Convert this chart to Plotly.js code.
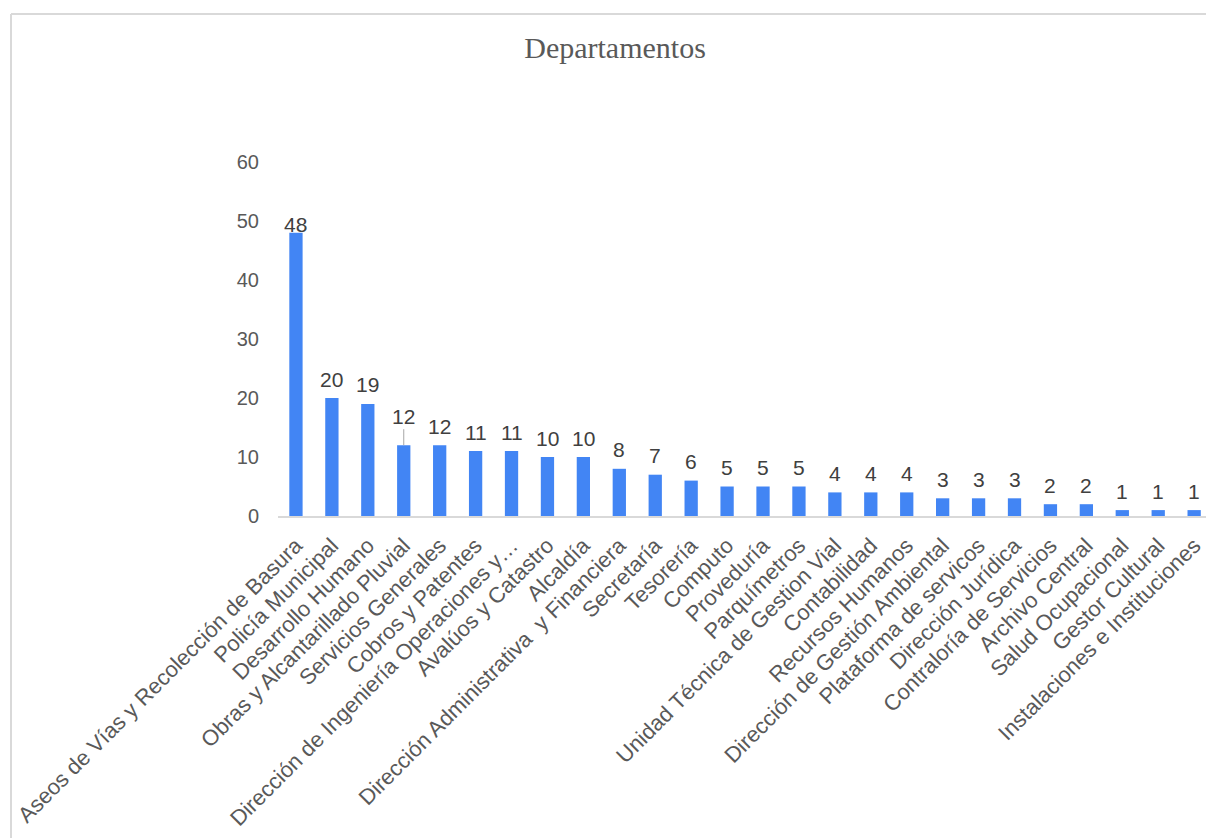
<!DOCTYPE html>
<html>
<head>
<meta charset="utf-8">
<script src="https://cdn.plot.ly/plotly-3.0.1.min.js"></script>
<style>
  html, body { margin: 0; padding: 0; background: #ffffff; width: 1206px; height: 838px; overflow: hidden; }
  #chart { position: absolute; left: 0; top: 0; width: 1206px; height: 838px; }
</style>
</head>
<body>
<div id="chart"></div>
<script>
// Departments and their counts
const departamentos = [
  "Aseos de Vías y Recolección de Basura",
  "Policía Municipal",
  "Desarrollo Humano",
  "Obras y Alcantarillado Pluvial",
  "Servicios Generales",
  "Cobros y Patentes",
  "Dirección de Ingeniería Operaciones y…",
  "Avalúos y Catastro",
  "Alcaldía",
  "Dirección Administrativa  y Financiera",
  "Secretaría",
  "Tesorería",
  "Computo",
  "Proveduría",
  "Parquímetros",
  "Unidad Técnica de Gestion Vial",
  "Contabilidad",
  "Recursos Humanos",
  "Dirección de Gestión Ambiental",
  "Plataforma de servicos",
  "Dirección Jurídica",
  "Contraloría de Servicios",
  "Archivo Central",
  "Salud Ocupacional",
  "Gestor Cultural",
  "Instalaciones e Instituciones"
];
const cantidades = [48, 20, 19, 12, 12, 11, 11, 10, 10, 8, 7, 6, 5, 5, 5, 4, 4, 4, 3, 3, 3, 2, 2, 1, 1, 1];
const yTicks = [0, 10, 20, 30, 40, 50, 60];

const W = 1206, H = 838;
const M = { l: 278, r: 0, t: 162, b: 322 };

const labelFont = { family: "Liberation Sans, Arial, sans-serif", size: 21, color: "#404040" };
const maxVal = Math.max(...cantidades);

// Value labels above each bar; the tallest one sits close to its bar top,
// and the first "12" is lifted with a short leader line.
const annotations = cantidades.map((v, i) => {
  const a = {
    x: departamentos[i], y: v, xref: "x", yref: "y",
    text: String(v), font: labelFont,
    showarrow: false, yanchor: "middle", xanchor: "center",
    yshift: v === maxVal ? 8 : 19
  };
  if (i > 0 && v === cantidades[i + 1] && v !== cantidades[i - 1] && v === 12) {
    a.showarrow = true; a.arrowhead = 0; a.arrowwidth = 1; a.arrowcolor = "#a6a6a6";
    a.ax = 0; a.ay = -29; a.standoff = 0; a.yshift = 0;
  }
  return a;
});

// Chart frame: left and top edges, expressed in paper units from pixel offsets
const pw = W - M.l - M.r, ph = H - M.t - M.b;
const fx = (11 - M.l) / pw, fy = 1 + (M.t - 14) / ph;
const frameLine = { color: "#d9d9d9", width: 2 };
const shapes = [
  { type: "line", xref: "paper", yref: "paper", x0: fx, x1: fx, y0: fy, y1: -M.b / ph - 0.1, line: frameLine, layer: "below" },
  { type: "line", xref: "paper", yref: "paper", x0: fx, x1: 1.1, y0: fy, y1: fy, line: frameLine, layer: "below" }
];

const trace = {
  type: "bar",
  x: departamentos,
  y: cantidades,
  marker: { color: "#4285f4" },
  width: 0.37,
  hoverinfo: "x+y"
};

const layout = {
  width: W, height: H,
  margin: M,
  paper_bgcolor: "#ffffff", plot_bgcolor: "rgba(0,0,0,0)",
  showlegend: false,
  title: {
    text: "Departamentos",
    font: { family: "Liberation Serif, Times New Roman, serif", size: 30, color: "#595959" },
    x: 0.51, xanchor: "center", y: 0.943, yanchor: "middle"
  },
  xaxis: {
    type: "category",
    categoryorder: "array", categoryarray: departamentos,
    range: [-0.5, 25.33],
    showline: true, linecolor: "#d9d9d9", linewidth: 2,
    showgrid: false, zeroline: false, ticks: "",
    tickangle: -45,
    ticklabelstandoff: 6,
    tickfont: { family: "Liberation Sans, Arial, sans-serif", size: 22, color: "#595959" },
    fixedrange: true
  },
  yaxis: {
    range: [0, 60], tickvals: yTicks, ticktext: yTicks.map(String),
    showline: false, showgrid: false, zeroline: false, ticks: "",
    ticklabelstandoff: 18,
    tickfont: { family: "Liberation Sans, Arial, sans-serif", size: 20, color: "#595959" },
    fixedrange: true
  },
  shapes: shapes,
  annotations: annotations
};

Plotly.newPlot("chart", [trace], layout, { displayModeBar: false, staticPlot: true });
</script>
</body>
</html>
